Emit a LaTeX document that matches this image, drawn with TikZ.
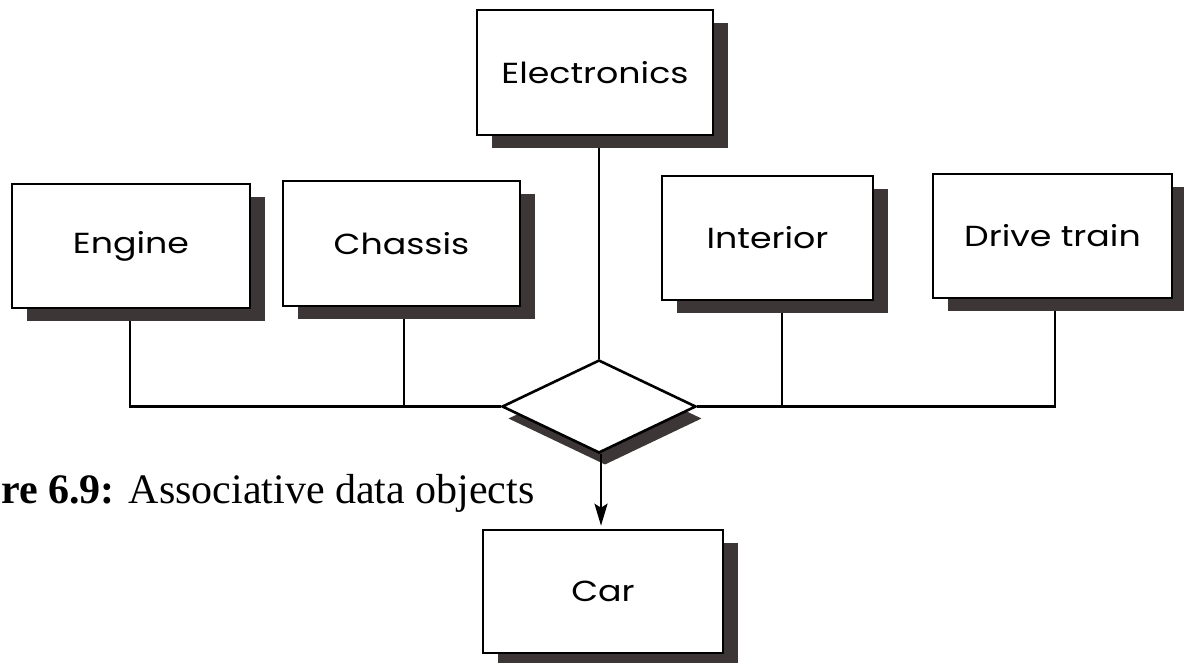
\documentclass[tikz,border=0pt]{standalone}
\usepackage{fontspec}
\setmainfont{Liberation Serif}
\newfontfamily\boxfont[FakeStretch=1.2]{Poppins}
\usetikzlibrary{shapes.geometric,shadows,arrows.meta,backgrounds}
\definecolor{shade}{RGB}{60,54,54}
\tikzset{
  x=1pt, y=-1pt,
  entity/.style={draw=black, line width=2.6pt, fill=white, inner sep=0pt,
    font=\boxfont\fontsize{29}{32}\selectfont,
    drop shadow={shadow xshift=15pt, shadow yshift=-13pt, fill=shade, opacity=1}},
  assoc/.style={diamond, draw=black, line width=2.6pt, fill=white, inner sep=0pt,
    minimum width=194pt, minimum height=93pt,
    drop shadow={shadow xshift=6pt, shadow yshift=-12pt, fill=shade, opacity=1}},
  link/.style={draw=black, line width=2.4pt},
  flow/.style={draw=black, line width=2.2pt, -{Stealth[length=22pt,width=13pt,inset=4pt]}}
}
\begin{document}
\begin{tikzpicture}
\useasboundingbox (0,0) rectangle (1184,662);

% entity boxes
\node[entity, minimum width=236pt, minimum height=125pt] (elec)     at (595,72.5)    {Electronics};
\node[entity, minimum width=238pt, minimum height=124pt] (engine)   at (131,246)     {Engine};
\node[entity, minimum width=237pt, minimum height=125pt] (chassis)  at (401.5,243.5) {Chassis};
\node[entity, minimum width=211pt, minimum height=124pt] (interior) at (767.5,238)   {Interior};
\node[entity, minimum width=239pt, minimum height=124pt] (drive)    at (1052.5,236)  {Drive train};
\node[entity, minimum width=240pt, minimum height=123pt] (car)      at (603,591.5)   {Car};

% associative relationship
\node[assoc] (hub) at (599,406.5) {};

% connectors, kept behind the shadows
\begin{scope}[on background layer]
  \draw[link] ([xshift=-1pt]engine.south) |- (hub.west);
  \draw[link] ([xshift=2.5pt]chassis.south) -- ([xshift=2.5pt]chassis.south |- hub.west);
  \draw[link] ([xshift=14.5pt]interior.south) |- (hub.east);
  \draw[link] ([xshift=2.5pt]drive.south) |- (hub.east);
  \draw[link] (elec.south -| hub.north) -- (hub.north);
\end{scope}
\draw[flow] ([xshift=2pt]hub.south) -- ([xshift=2pt,yshift=3pt]hub.south |- car.north);

% caption
\node[anchor=base west, inner sep=0pt, font=\fontsize{42}{46}\selectfont] (caption) at (1,503)
  {\textbf{re 6.9:} Associative data objects};
\end{tikzpicture}
\end{document}
